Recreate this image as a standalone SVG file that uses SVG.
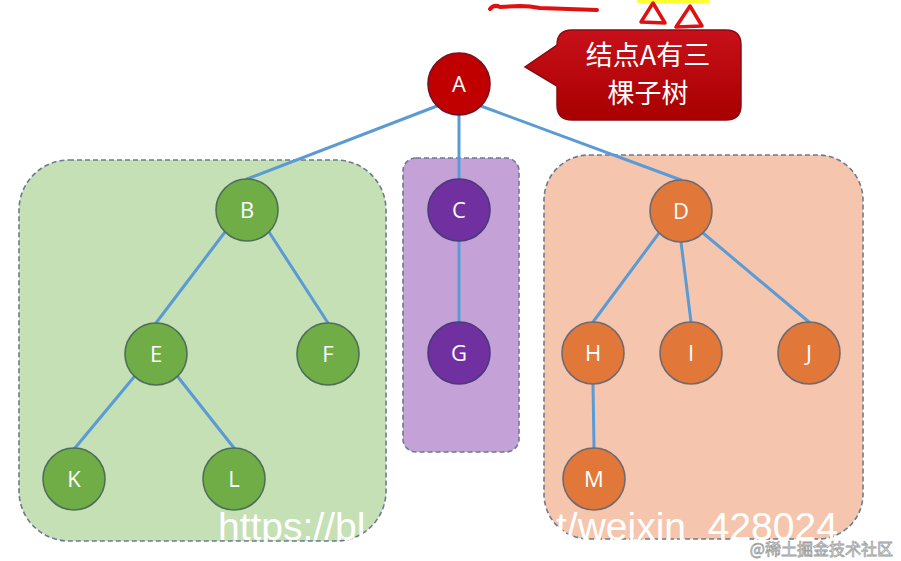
<svg xmlns="http://www.w3.org/2000/svg" width="901" height="561" viewBox="0 0 901 561">
<defs>
<style>
.box{stroke:#6a7b93;stroke-width:1.6;stroke-dasharray:5 3}
.n circle{stroke-width:1.6}
.g circle{fill:#70AD47;stroke:#4d6f5a}
.p circle{fill:#7030A0;stroke:#4b3a7a}
.o circle{fill:#E2773A;stroke:#6d6a70}
.r circle{fill:#C00000;stroke:#7a1020}
.n text{font-family:"Open Sans","Noto Sans",sans-serif;font-size:22px;fill:#ffffff;text-anchor:middle}
#edges line{stroke:#5B9BD5;stroke-width:3;stroke-linecap:round}
.ct{font-family:"Noto Sans CJK SC","Noto Sans",sans-serif;font-size:27px;fill:#ffffff;text-anchor:middle}
</style>
<linearGradient id="cg" x1="0" y1="0" x2="0" y2="1">
<stop offset="0" stop-color="#c8101a"/>
<stop offset="1" stop-color="#a80000"/>
</linearGradient>
</defs>
<rect width="901" height="561" fill="#ffffff"/>

<!-- top scribbles -->
<rect x="637" y="0" width="72" height="3" fill="#ffff33"/>
<path d="M490 9 Q494 4 500 7 L520 6 Q530 6 540 8 L597 10" fill="none" stroke="#e01010" stroke-width="4" stroke-linecap="round"/>
<path d="M653 3 L641 22 L665 23 Z" fill="none" stroke="#e01010" stroke-width="3.5" stroke-linejoin="round"/>
<path d="M690 6 L676 27 L702 26 Z" fill="none" stroke="#e01010" stroke-width="3.5" stroke-linejoin="round"/>

<!-- subtree boxes -->
<rect class="box" x="19" y="160" width="367" height="381" rx="50" fill="#C5E0B4"/>
<rect class="box" x="403" y="158" width="116" height="294" rx="13" fill="#C4A2D7"/>
<rect class="box" x="544" y="155" width="319" height="384" rx="45" fill="#F5C6AD"/>

<!-- callout -->
<g id="callout">
<path d="M572 30 H726 Q741 30 741 45 V105 Q741 120 726 120 H572 Q557 120 557 105 V86 L525 67 L557 45 Q557 30 572 30 Z" fill="url(#cg)" stroke="#8a0a10" stroke-width="1.5"/>
<text class="ct" x="648" y="65">结点A有三</text>
<text class="ct" x="648" y="103">棵子树</text>
</g>

<g id="edges">
<line x1="437" y1="106" x2="247" y2="179"/>
<line x1="459" y1="115" x2="459" y2="179"/>
<line x1="481" y1="106" x2="681" y2="180"/>
<line x1="225" y1="232" x2="156" y2="323"/>
<line x1="269" y1="232" x2="328" y2="323"/>
<line x1="134" y1="377" x2="75" y2="448"/>
<line x1="178" y1="377" x2="234" y2="448"/>
<line x1="459" y1="241" x2="459" y2="322"/>
<line x1="659" y1="233" x2="593" y2="322"/>
<line x1="681" y1="242" x2="691" y2="322"/>
<line x1="703" y1="233" x2="809" y2="322"/>
<line x1="593" y1="384" x2="594" y2="448"/>
</g>

<g id="node-A" class="n r"><circle cx="459" cy="84" r="31"/><text x="459" y="92">A</text></g>
<g id="node-B" class="n g"><circle cx="247" cy="210" r="31"/><text x="247" y="218">B</text></g>
<g id="node-C" class="n p"><circle cx="459" cy="210" r="31"/><text x="459" y="218">C</text></g>
<g id="node-D" class="n o"><circle cx="681" cy="211" r="31"/><text x="681" y="219">D</text></g>
<g id="node-E" class="n g"><circle cx="156" cy="354" r="31"/><text x="156" y="362">E</text></g>
<g id="node-F" class="n g"><circle cx="328" cy="354" r="31"/><text x="328" y="362">F</text></g>
<g id="node-G" class="n p"><circle cx="459" cy="353" r="31"/><text x="459" y="361">G</text></g>
<g id="node-H" class="n o"><circle cx="593" cy="353" r="31"/><text x="593" y="361">H</text></g>
<g id="node-I" class="n o"><circle cx="691" cy="353" r="31"/><text x="691" y="361">I</text></g>
<g id="node-J" class="n o"><circle cx="809" cy="353" r="31"/><text x="809" y="361">J</text></g>
<g id="node-K" class="n g"><circle cx="74" cy="479" r="31"/><text x="74" y="487">K</text></g>
<g id="node-L" class="n g"><circle cx="234" cy="479" r="31"/><text x="234" y="487">L</text></g>
<g id="node-M" class="n o"><circle cx="594" cy="479" r="31"/><text x="594" y="487">M</text></g>

<!-- watermarks -->
<text x="218" y="540" font-family="'Liberation Sans',Arial,sans-serif" font-size="39" fill="#ffffff">https://bl</text>
<text x="556" y="540" font-family="'Liberation Sans',Arial,sans-serif" font-size="39" fill="#ffffff">t/weixin_428024</text>
<text x="893" y="555" font-family="'Noto Sans CJK SC',sans-serif" font-size="16" fill="#ffffff" stroke="#a0a0a0" stroke-width="0.8" text-anchor="end">@稀土掘金技术社区</text>
</svg>
